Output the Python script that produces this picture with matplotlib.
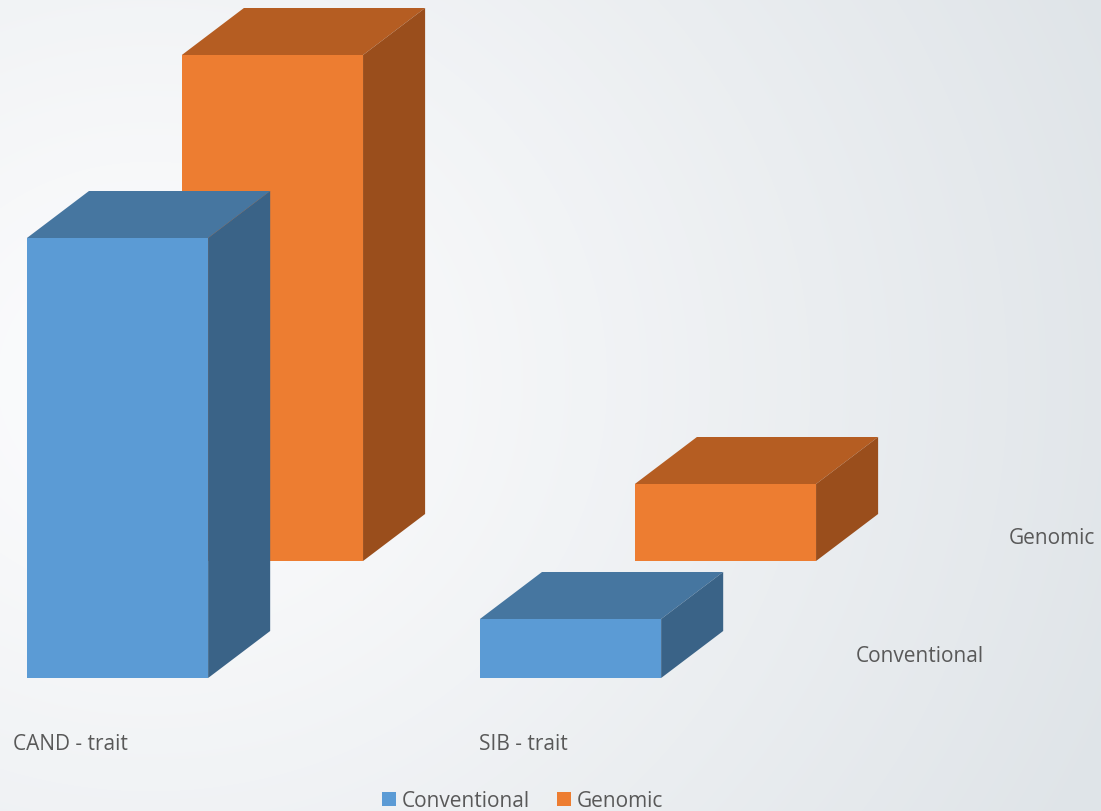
import numpy as np
import matplotlib
matplotlib.use("Agg")
import matplotlib.pyplot as plt
from matplotlib.patches import Polygon, Patch
from matplotlib.colors import to_rgb

# ---- data ----
categories = ["CAND - trait", "SIB - trait"]
series = ["Conventional", "Genomic"]
conventional = [0.440, 0.059]
genomic = [0.506, 0.077]

front_colors = ["#5B9BD5", "#ED7D31"]
top_colors = ["#4676A0", "#B55D22"]
side_colors = ["#3A6387", "#9A4E1C"]
text_color = "#595959"

plt.rcParams["font.family"] = ["Open Sans", "DejaVu Sans"]

W, H, DPI = 1101, 811, 100
fig = plt.figure(figsize=(W / DPI, H / DPI), dpi=DPI)

# radial background gradient
bg = fig.add_axes([0, 0, 1, 1])
bg.set_axis_off()
yy, xx = np.mgrid[0:H, 0:W]
r = np.hypot((xx - 150) / 1.0, (yy - 380) / 0.9)
t = np.clip(r / 1050.0, 0, 1) ** 1.1
c0 = np.array(to_rgb("#fdfdfe"))
c1 = np.array(to_rgb("#dfe4e8"))
img = c0[None, None, :] * (1 - t[..., None]) + c1[None, None, :] * t[..., None]
bg.imshow(img, extent=[0, W, H, 0], aspect="auto", interpolation="bilinear")
bg.set_xlim(0, W)
bg.set_ylim(H, 0)

# main chart axes: x in category units, y in value units
ax = fig.add_axes([0, 0, 1, 1])
ax.patch.set_alpha(0)
ax.set_axis_off()
ax.set_xlim(-0.2594, 2.171)
ax.set_ylim(-0.133, 0.678)

bar_w = 0.4
depth_x, depth_y = 0.137, 0.047          # bar depth projection
row_x, row_y = 0.342, 0.117              # offset between series rows

x = np.arange(len(categories))
values = [conventional, genomic]

# back row first so the front row overlaps it
for s in (1, 0):
    ox, oy = s * row_x, s * row_y
    for i, v in enumerate(values[s]):
        x0 = x[i] - bar_w / 2 + ox
        x1 = x0 + bar_w
        y0 = oy
        y1 = oy + v
        ax.bar(x[i] + ox, v, width=bar_w, bottom=oy, color=front_colors[s],
               linewidth=0, zorder=3)
        top = Polygon([(x0, y1), (x1, y1), (x1 + depth_x, y1 + depth_y),
                       (x0 + depth_x, y1 + depth_y)], closed=True,
                      facecolor=top_colors[s], edgecolor="none", zorder=3)
        side = Polygon([(x1, y0), (x1 + depth_x, y0 + depth_y),
                        (x1 + depth_x, y1 + depth_y), (x1, y1)], closed=True,
                       facecolor=side_colors[s], edgecolor="none", zorder=3)
        ax.add_patch(top)
        ax.add_patch(side)

# category labels
for i, c in enumerate(categories):
    ax.text(x[i] - 0.104, -0.066, c, ha="center", va="center",
            fontsize=15, color=text_color)

# series (depth) labels
ax.text(1.771, 0.022, series[0], ha="center", va="center",
        fontsize=15, color=text_color)
ax.text(2.062, 0.139, series[1], ha="center", va="center",
        fontsize=15, color=text_color)

handles = [Patch(facecolor=front_colors[k], edgecolor="none", label=series[k])
           for k in range(2)]
fig.legend(handles=handles, loc="lower center", bbox_to_anchor=(0.475, -0.024),
           ncol=2, frameon=False, fontsize=15, handlelength=0.65,
           handleheight=0.65, handletextpad=0.3, columnspacing=1.3,
           labelcolor=text_color)

fig.savefig("out.png", dpi=DPI)
